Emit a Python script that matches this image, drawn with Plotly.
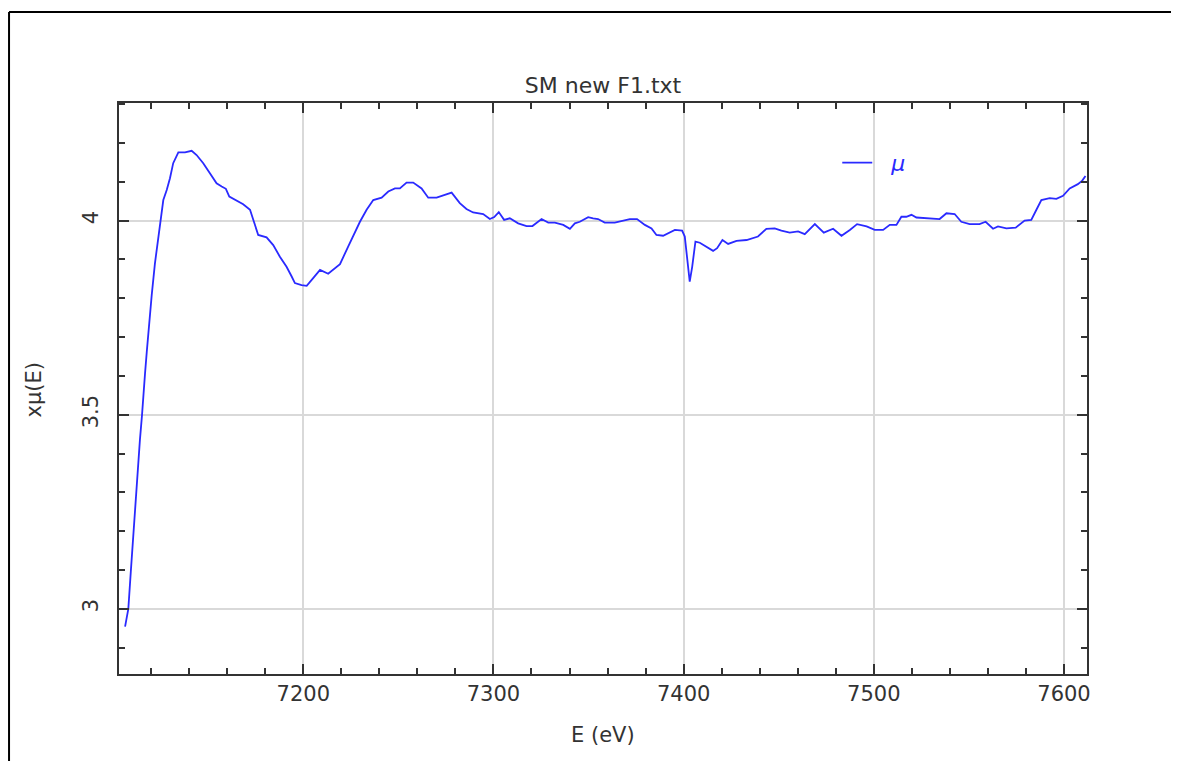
import plotly.graph_objects as go

energy = [7106.3, 7108.0, 7109.3, 7110.3, 7111.1, 7112.0, 7113.1, 7114.1, 7115.2, 7115.9,
          7116.8, 7117.7, 7118.5, 7119.4, 7120.3, 7122.0, 7123.8, 7125.0, 7126.4, 7128.2,
          7129.9, 7131.6, 7134.3, 7137.8, 7141.3, 7143.9, 7147.4, 7150.9, 7154.4, 7157.1,
          7159.3, 7161.1, 7164.1, 7168.4, 7172.0, 7173.7, 7176.3, 7180.7, 7184.2, 7187.7,
          7191.2, 7193.9, 7195.6, 7199.1, 7201.8, 7205.2, 7208.8, 7213.1, 7219.3, 7223.6,
          7229.8, 7233.3, 7236.8, 7241.2, 7244.7, 7248.2, 7250.8, 7254.3, 7257.8, 7262.2,
          7265.7, 7270.1, 7273.6, 7278.0, 7282.3, 7285.8, 7289.3, 7294.6, 7298.1, 7300.4,
          7302.8, 7305.6, 7308.6, 7313.0, 7317.4, 7320.5, 7325.3, 7328.8, 7332.3, 7336.7,
          7340.2, 7342.8, 7345.4, 7349.8, 7352.4, 7355.0, 7358.5, 7363.8, 7371.7, 7375.5,
          7379.6, 7383.1, 7385.7, 7389.2, 7395.4, 7399.2, 7400.6, 7401.8, 7403.2, 7404.5,
          7406.2, 7408.5, 7412.0, 7415.5, 7417.6, 7420.4, 7423.4, 7427.8, 7433.1, 7439.1,
          7443.5, 7447.9, 7451.4, 7455.8, 7460.2, 7463.7, 7469.0, 7473.7, 7478.6, 7483.0,
          7487.4, 7491.2, 7496.2, 7500.5, 7504.9, 7508.4, 7511.9, 7514.5, 7517.1, 7519.8,
          7522.4, 7528.5, 7534.6, 7538.2, 7542.5, 7546.0, 7550.4, 7555.6, 7558.8, 7562.7,
          7565.3, 7569.7, 7574.6, 7579.3, 7582.8, 7585.5, 7588.1, 7592.5, 7596.0, 7599.5,
          7603.0, 7607.3, 7609.6, 7611.3]

mu = [2.954, 3.000, 3.095, 3.169, 3.233, 3.300, 3.370, 3.435, 3.499, 3.555,
      3.607, 3.662, 3.714, 3.761, 3.808, 3.890, 3.959, 4.010, 4.053, 4.079,
      4.109, 4.148, 4.176, 4.176, 4.180, 4.169, 4.148, 4.122, 4.096, 4.088,
      4.082, 4.062, 4.053, 4.042, 4.028, 4.002, 3.963, 3.957, 3.937, 3.907,
      3.881, 3.856, 3.839, 3.834, 3.832, 3.852, 3.873, 3.863, 3.888, 3.933,
      3.997, 4.028, 4.053, 4.059, 4.075, 4.083, 4.083, 4.098, 4.098, 4.083,
      4.059, 4.059, 4.064, 4.072, 4.045, 4.030, 4.021, 4.017, 4.004, 4.009,
      4.022, 4.002, 4.006, 3.993, 3.986, 3.986, 4.004, 3.995, 3.995, 3.989,
      3.979, 3.993, 3.997, 4.009, 4.006, 4.004, 3.995, 3.995, 4.004, 4.004,
      3.989, 3.980, 3.963, 3.961, 3.976, 3.974, 3.959, 3.899, 3.843, 3.881,
      3.946, 3.943, 3.933, 3.922, 3.929, 3.950, 3.940, 3.948, 3.950, 3.959,
      3.979, 3.980, 3.974, 3.969, 3.972, 3.965, 3.991, 3.969, 3.979, 3.961,
      3.976, 3.991, 3.985, 3.976, 3.976, 3.989, 3.989, 4.010, 4.010, 4.015,
      4.008, 4.006, 4.004, 4.019, 4.017, 3.997, 3.991, 3.991, 3.997, 3.979,
      3.985, 3.980, 3.982, 4.000, 4.002, 4.028, 4.053, 4.058, 4.056, 4.064,
      4.083, 4.094, 4.103, 4.115]

x_ticks = [7200, 7300, 7400, 7500, 7600]
y_ticks = [3, 3.5, 4]
y_tick_labels = ["3", "3.5", "4"]

FONT = "DejaVu Sans"
TXT = "#333333"
BLUE = "#2a2aff"

fig = go.Figure()
fig.add_trace(go.Scatter(x=energy, y=mu, mode="lines", name="&nbsp;&nbsp;<i>μ</i>",
                         line=dict(color=BLUE, width=1.8)))

axis_common = dict(
    showline=True, linecolor="#333333", linewidth=2, mirror="allticks",
    ticks="inside", ticklen=10, tickwidth=2, tickcolor="#333333",
    showgrid=True, gridcolor="#d9d9d9", gridwidth=1.5, zeroline=False,
    tickfont=dict(family=FONT, size=21, color=TXT),
)

fig.update_xaxes(range=[7103.1, 7612.1], tickvals=x_ticks, **axis_common,
                 minor=dict(dtick=20, tick0=7100, ticks="inside", ticklen=6,
                            tickwidth=1.5, tickcolor="#333333", showgrid=False))
fig.update_yaxes(range=[2.832, 4.303], tickvals=y_ticks, ticktext=y_tick_labels,
                 tickangle=-90, ticklabelstandoff=11, **axis_common,
                 minor=dict(dtick=0.1, tick0=2.8, ticks="inside", ticklen=6,
                            tickwidth=1.5, tickcolor="#333333", showgrid=False))

fig.update_layout(
    width=1179, height=761,
    margin=dict(l=111, r=100, t=95, b=95),
    paper_bgcolor="white", plot_bgcolor="white",
    font=dict(family=FONT, size=21, color=TXT),
    title=dict(text="SM new F1.txt", x=0.5, xref="paper", xanchor="center",
               y=1 - 77 / 761, yref="container", yanchor="middle",
               font=dict(family=FONT, size=22, color=TXT)),
    showlegend=True,
    legend=dict(x=0.742, y=0.932, xanchor="left", yanchor="top",
                bgcolor="rgba(0,0,0,0)", font=dict(family=FONT, size=22, color=BLUE)),
    annotations=[
        dict(text="E (eV)", x=0.5, y=-0.107, xref="paper", yref="paper",
             xanchor="center", yanchor="middle", showarrow=False,
             font=dict(family=FONT, size=21, color=TXT)),
        dict(text="xμ(E)", x=-0.088, y=0.498, xref="paper", yref="paper",
             xanchor="center", yanchor="middle", showarrow=False, textangle=-90,
             font=dict(family=FONT, size=21, color=TXT)),
    ],
    shapes=[
        dict(type="line", xref="paper", yref="paper",
             x0=-0.1136, x1=1.3, y0=1.1594, y1=1.1594,
             line=dict(color="black", width=2), layer="below"),
        dict(type="line", xref="paper", yref="paper",
             x0=-0.1136, x1=-0.1136, y0=-0.3, y1=1.1594,
             line=dict(color="black", width=2), layer="below"),
    ],
)

fig.write_html("out.html")
